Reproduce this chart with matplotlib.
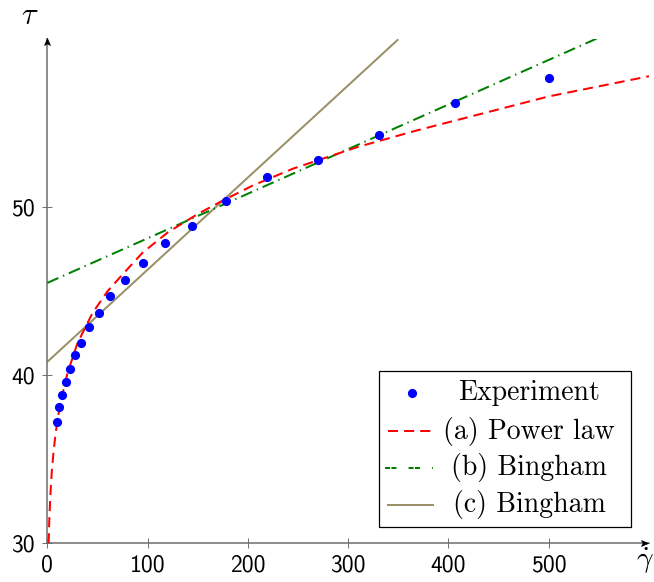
import matplotlib
matplotlib.use("Agg")
import matplotlib.pyplot as plt
from matplotlib.path import Path
from matplotlib.lines import Line2D
from matplotlib.patches import Rectangle

# ---------------- data ----------------
exp_x = [9.5, 12, 14.6, 18.3, 22.4, 27.6, 33.8, 41.8, 51.5, 63, 77.6, 95.5,
         117.5, 144.4, 178, 219, 269.5, 331, 406.5, 500]
exp_y = [37.2, 38.1, 38.8, 39.6, 40.4, 41.2, 41.9, 42.9, 43.7, 44.7, 45.7, 46.7,
         47.9, 48.9, 50.4, 51.8, 52.8, 54.3, 56.2, 57.7]

power_x = [1.3, 2, 3, 4.5, 6, 8, 10, 14, 20, 30, 45, 60, 75, 95, 120, 150, 175,
           205, 245, 310, 370, 435, 500, 600]
power_y = [30.0, 31.4, 32.8, 34.3, 35.3, 36.4, 37.3, 38.6, 40.1, 41.9, 43.7, 45.0,
           46.0, 47.3, 48.5, 49.6, 50.4, 51.3, 52.3, 53.6, 54.6, 55.6, 56.6, 57.8]

bingham_b_x = [0, 550]
bingham_b_y = [45.5, 60.1]

bingham_c_x = [0, 350]
bingham_c_y = [40.8, 60.0]

legend_labels = ["Experiment", "(a) Power law", "(b) Bingham", "(c) Bingham"]
xticks = [0, 100, 200, 300, 400, 500]
yticks = [30, 40, 50]

# ---------------- styling ----------------
plt.rcParams['mathtext.fontset'] = 'cm'
plt.rcParams['axes.formatter.use_mathtext'] = True

RED = '#ff0000'
GREEN = '#008000'
BLUE = '#0000ff'
OLIVE = '#9a9168'
AXC = '#6e6e6e'

W, H = 654, 582
fig = plt.figure(figsize=(W / 100, H / 100), dpi=100)
L, R, B, T = 47.3, 649.0, 543.3, 39.3
ax = fig.add_axes([L / W, (H - B) / H, (R - L) / W, (B - T) / H])

ax.set_xlim(0, 600)
ax.set_ylim(30, 60)

lw = 1.45
ax.plot(bingham_c_x, bingham_c_y, color=OLIVE, lw=lw, solid_capstyle='butt', zorder=2)
ax.plot(bingham_b_x, bingham_b_y, color=GREEN, lw=lw, dashes=(6, 2.5, 0.7, 2.5), zorder=3)
ax.plot(power_x, power_y, color=RED, lw=lw, dashes=(5, 3), zorder=4)
ax.plot(exp_x, exp_y, 'o', color=BLUE, ms=6.6, mec='none', zorder=5)

# axes: left and bottom lines only
for s in ['top', 'right']:
    ax.spines[s].set_visible(False)
for s in ['left', 'bottom']:
    ax.spines[s].set_color(AXC)
    ax.spines[s].set_linewidth(1.1)

ax.set_xticks(xticks)
ax.set_xticklabels([str(v) for v in xticks])
ax.set_yticks(yticks)
ax.set_yticklabels([str(v) for v in yticks])
ax.tick_params(direction='inout', length=7.2, width=0.7, color=AXC,
               labelsize=17, labelcolor='black')
ax.tick_params(axis='x', pad=4.5)
ax.tick_params(axis='y', pad=5.5)
for t in ax.get_xticklabels() + ax.get_yticklabels():
    t.set_fontfamily('cmss10')

# arrow heads
up = Path([(0, 0), (-0.42, -1), (0, -0.78), (0.42, -1), (0, 0)],
          [Path.MOVETO, Path.LINETO, Path.LINETO, Path.LINETO, Path.CLOSEPOLY])
right = Path([(0, 0), (-1, 0.42), (-0.78, 0), (-1, -0.42), (0, 0)],
             [Path.MOVETO, Path.LINETO, Path.LINETO, Path.LINETO, Path.CLOSEPOLY])
ax.plot([0], [1.003], marker=up, ms=10, color='black', mec='black', mew=0.5,
        transform=ax.transAxes, clip_on=False, zorder=6)
ax.plot([0.9985], [0], marker=right, ms=10, color='black', mec='black', mew=0.5,
        transform=ax.transAxes, clip_on=False, zorder=6)

# axis labels
fig.text(30 / W, 1 - 15 / H, r'$\tau$', fontsize=22, ha='center', va='center')
fig.text(645 / W, 1 - 561 / H, r'$\dot{\gamma}$', fontsize=21, ha='center', va='center')

# legend (pgfplots style, centred text)
def fx(px):
    return (px - L) / (R - L)

def fy(py):
    return (B - py) / (B - T)

x0, x1 = fx(379.3), fx(631.0)
y0, y1 = fy(526.7), fy(371.0)
ax.add_patch(Rectangle((x0, y0), x1 - x0, y1 - y0, transform=ax.transAxes,
                       facecolor='white', edgecolor='black', lw=0.9,
                       zorder=10, clip_on=False))
rows = [fy(393), fy(431), fy(467.5), fy(504.5)]
hx0, hx1, hm, tx = fx(388), fx(433), fx(411.7), fx(529)
ax.add_line(Line2D([hm], [rows[0]], marker='o', ms=6.6, color=BLUE, mec='none',
                   transform=ax.transAxes, zorder=11, clip_on=False))
ax.add_line(Line2D([hx0, hx1], [rows[1], rows[1]], color=RED, lw=lw, dashes=(5, 3),
                   transform=ax.transAxes, zorder=11, clip_on=False))
ax.add_line(Line2D([fx(385), hx1], [rows[2], rows[2]], color=GREEN, lw=lw,
                   dashes=(6, 2.5, 0.7, 2.5)[::-1],
                   transform=ax.transAxes, zorder=11, clip_on=False))
ax.add_line(Line2D([hx0, hx1], [rows[3], rows[3]], color=OLIVE, lw=lw,
                   transform=ax.transAxes, zorder=11, clip_on=False))
for lab, yy in zip(legend_labels, rows):
    ax.text(tx, yy, lab, transform=ax.transAxes, ha='center', va='center',
            fontsize=20, family='cmr10', zorder=12)

fig.savefig('out.png', dpi=100)
